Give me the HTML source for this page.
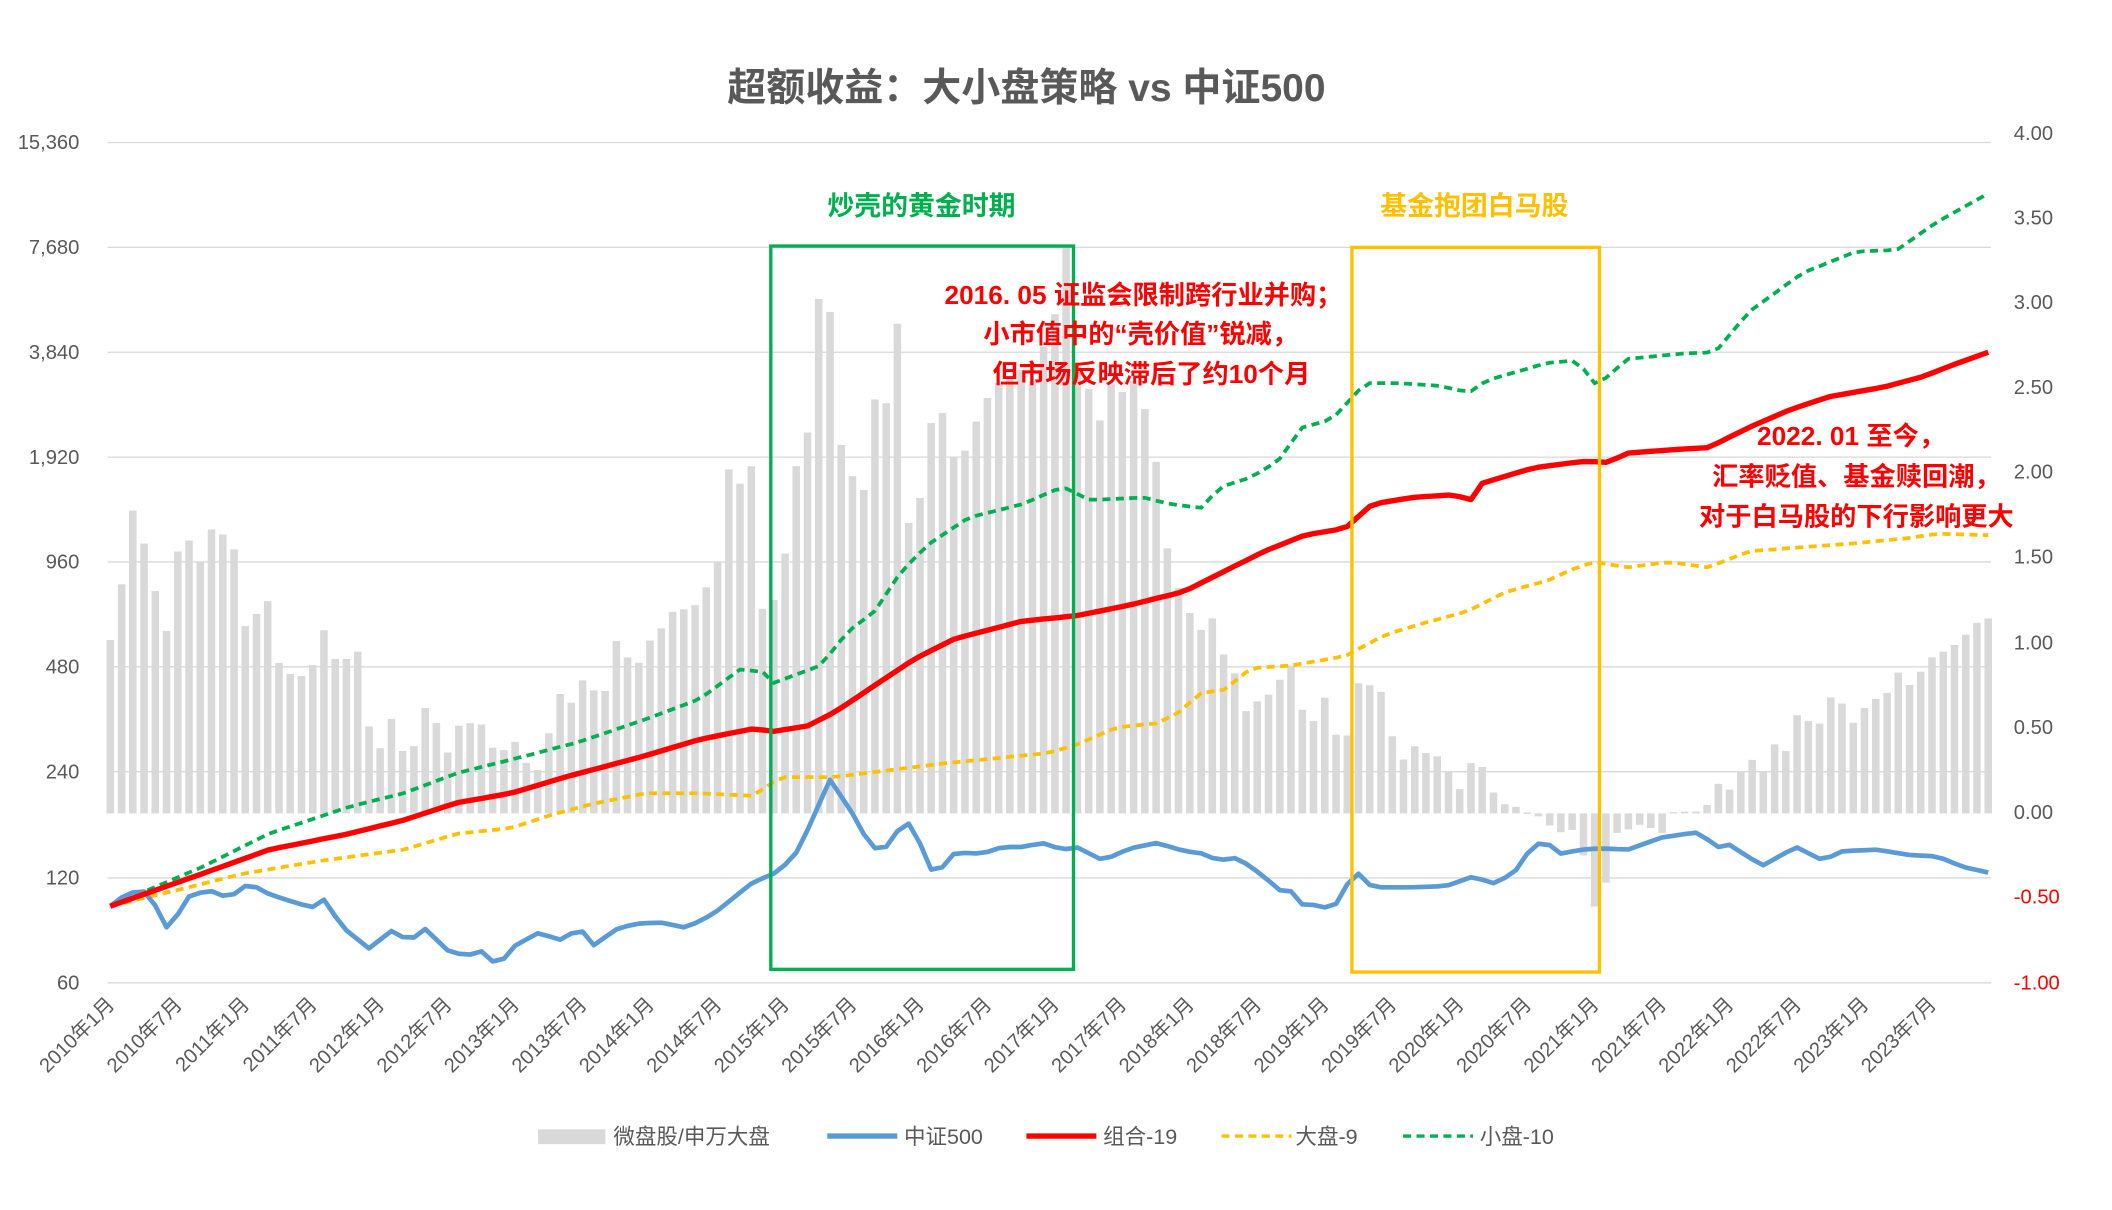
<!DOCTYPE html>
<html><head><meta charset="utf-8"><style>
html,body{margin:0;padding:0;background:#fff;}
svg{display:block;}
text{font-family:"Liberation Sans","Noto Sans CJK SC",sans-serif;}
</style></head><body>
<svg id="c" width="2112" height="1210" viewBox="0 0 1570 900" preserveAspectRatio="none" xmlns="http://www.w3.org/2000/svg">
<rect width="1570" height="900" fill="#fff"/>
<g id="grid" stroke="#d9d9d9" stroke-width="1">
<line x1="80" x2="1480" y1="106" y2="106"/><line x1="80" x2="1480" y1="184" y2="184"/>
<line x1="80" x2="1480" y1="262" y2="262"/><line x1="80" x2="1480" y1="340" y2="340"/>
<line x1="80" x2="1480" y1="418" y2="418"/><line x1="80" x2="1480" y1="496" y2="496"/>
<line x1="80" x2="1480" y1="574" y2="574"/><line x1="80" x2="1480" y1="653" y2="653"/>
<line x1="80" x2="1480" y1="731" y2="731"/>
</g>
<g id="bars" fill="#d9d9d9"></g>
<g id="lines"></g>
<text x="763" y="75" text-anchor="middle" font-size="29" font-weight="bold" fill="#595959">超额收益：大小盘策略 vs 中证500</text>
<g font-size="15" fill="#595959" text-anchor="end">
<text x="59" y="111">15,360</text><text x="59" y="189">7,680</text><text x="59" y="267">3,840</text>
<text x="59" y="345">1,920</text><text x="59" y="423">960</text><text x="59" y="501">480</text>
<text x="59" y="579">240</text><text x="59" y="658">120</text><text x="59" y="736">60</text>
</g>
<g font-size="15" fill="#595959">
<text x="1497" y="104">4.00</text><text x="1497" y="167">3.50</text><text x="1497" y="230">3.00</text>
<text x="1497" y="293">2.50</text><text x="1497" y="356">2.00</text><text x="1497" y="419">1.50</text>
<text x="1497" y="483">1.00</text><text x="1497" y="546">0.50</text><text x="1497" y="609">0.00</text>
<text x="1497" y="672" fill="#ff0000">-0.50</text><text x="1497" y="736" fill="#ff0000">-1.00</text>
</g>
<g id="xl" font-size="15" fill="#595959" text-anchor="end"></g>
<rect x="573" y="183" width="225" height="538" fill="none" stroke="#00b050" stroke-width="2.5"/>
<rect x="1005" y="184" width="184" height="539" fill="none" stroke="#ffc000" stroke-width="2.5"/>
<text x="685" y="160" text-anchor="middle" font-size="20" font-weight="bold" fill="#00b050">炒壳的黄金时期</text>
<text x="1096" y="160" text-anchor="middle" font-size="20" font-weight="bold" fill="#ffc000">基金抱团白马股</text>
<g font-size="19.5" font-weight="bold" fill="#ff0000" text-anchor="middle">
<text x="850" y="226">2016. 05 证监会限制跨行业并购；</text>
<text x="848" y="255">小市值中的“壳价值”锐减，</text>
<text x="856" y="285">但市场反映滞后了约10个月</text>
<text x="1376" y="331">2022. 01 至今，</text>
<text x="1380" y="361">汇率贬值、基金赎回潮，</text>
<text x="1380" y="391">对于白马股的下行影响更大</text>
</g>
<g font-size="16" fill="#595959">
<rect x="400" y="840" width="50" height="11" fill="#d9d9d9"/><text x="456" y="851">微盘股/申万大盘</text>
<line x1="615" x2="667" y1="845" y2="845" stroke="#5b9bd5" stroke-width="4"/><text x="672" y="851">中证500</text>
<line x1="763" x2="815" y1="845" y2="845" stroke="#ff0000" stroke-width="4"/><text x="820" y="851">组合-19</text>
<line x1="908" x2="960" y1="845" y2="845" stroke="#ffc000" stroke-width="2.5" stroke-dasharray="6,4"/><text x="963" y="851">大盘-9</text>
<line x1="1043" x2="1095" y1="845" y2="845" stroke="#00b050" stroke-width="2.5" stroke-dasharray="6,4"/><text x="1100" y="851">小盘-10</text>
</g>
</svg>
<script>
var N=168,x0=82,dx=(1478-82)/167;
function interp(k,x){for(var i=0;i<k.length-1;i++){if(x<=k[i+2]){var t=(x-k[i])/(k[i+2]-k[i]);return k[i+1]+t*(k[i+3]-k[i+1]);}i++;}return k[k.length-1];}
var G=[82,674,150,645,200,620,260,600,300,590,340,575,380,565,430,552,480,535,520,520,550,498,570,500,575,508,610,495,630,470,650,455,670,425,690,405,720,385,760,375,790,362,810,372,850,370,870,375,895,378,905,363,930,355,950,343,968,318,990,312,1015,285,1040,285,1070,287,1092,292,1105,283,1150,270,1172,268,1187,287,1210,267,1250,263,1275,262,1300,232,1340,203,1380,187,1410,186,1440,165,1478,144];
var R=[82,674,150,650,200,632,260,620,300,610,340,597,380,590,420,578,480,562,520,550,560,542,575,544,600,540,620,530,650,510,680,490,710,475,760,462,800,458,840,450,880,440,910,425,940,410,970,398,1000,393,1020,375,1050,370,1080,368,1095,372,1100,360,1140,348,1170,344,1180,343,1195,344,1210,337,1250,334,1270,333,1300,318,1330,305,1360,295,1400,288,1430,280,1450,272,1478,262];
var Y=[82,674,140,660,180,650,240,640,300,632,340,620,380,616,410,606,440,598,480,590,520,590,560,592,580,578,620,578,660,573,700,568,740,564,780,560,800,554,830,541,860,538,880,528,890,516,910,513,930,497,960,495,1000,488,1030,472,1060,463,1090,455,1120,440,1150,432,1170,423,1185,418,1210,422,1240,418,1270,422,1300,410,1340,407,1380,404,1420,400,1440,397,1478,398];
var B=[82,674,95,664,110,663,125,692,140,667,155,662,170,668,185,657,200,665,215,670,232,675,240,668,255,690,275,706,290,692,305,700,315,690,335,709,350,710,360,707,370,720,380,705,400,694,420,700,430,688,440,704,460,690,475,687,490,686,510,690,530,680,545,668,560,656,575,650,590,638,600,618,617,580,635,607,645,626,655,635,668,617,680,610,688,646,698,648,710,634,730,635,745,630,760,630,775,627,790,632,800,630,820,640,840,631,860,627,880,633,895,635,905,640,920,638,940,652,950,662,960,663,970,675,980,672,990,678,1000,660,1008,648,1020,660,1050,660,1075,659,1095,652,1110,657,1125,650,1140,628,1150,627,1160,635,1175,632,1190,631,1210,632,1235,623,1255,620,1265,619,1275,632,1282,626,1310,644,1335,630,1355,640,1370,633,1395,632,1420,636,1440,637,1460,645,1478,649];
var BR=[82,476,90,437,99,378,107,404,116,442,124,470,133,404,141,402,150,420,158,391,166,398,175,410,183,471,191,456,200,446,208,497,217,502,225,503,233,494,242,465,250,493,258,490,267,484,275,546,283,557,292,532,300,561,309,554,317,523,325,539,334,563,342,537,350,538,359,539,367,558,375,558,384,551,392,569,400,573,409,542,417,514,425,523,433,506,442,514,450,514,459,473,467,490,475,493,484,475,492,467,500,455,509,453,517,450,525,437,534,417,542,347,550,360,559,346,567,455,575,447,584,410,592,346,600,325,609,218,617,232,625,330,634,355,642,365,650,297,659,300,667,238,675,390,684,370,692,315,700,305,709,340,717,336,725,315,734,296,742,285,750,282,759,275,767,285,775,260,784,235,792,176,800,270,808,285,817,315,825,285,834,292,842,282,850,300,858,332,867,405,875,435,884,455,892,470,900,456,909,486,917,497,925,530,934,522,942,518,950,508,959,492,967,526,975,540,984,516,992,545,1000,555,1009,508,1017,510,1025,508,1034,545,1042,567,1050,554,1059,560,1067,561,1075,570,1084,590,1092,568,1100,566,1109,588,1117,598,1125,599,1134,604,1142,606,1150,612,1158,620,1167,616,1175,622,1183,677,1192,667,1200,620,1208,618,1217,614,1225,612,1233,626,1242,604,1250,604,1258,603,1267,605,1275,580,1283,590,1292,581,1300,556,1308,586,1317,548,1325,569,1334,532,1342,532,1350,547,1358,520,1367,516,1375,541,1383,531,1392,518,1400,524,1409,496,1417,512,1425,504,1434,490,1442,486,1450,482,1459,475,1467,465,1475,460];
var bars=document.getElementById('bars'),h='';
for(var i=0;i<N;i++){var x=x0+i*dx,t=interp(BR,x),base=605;var y1=Math.min(t,base),y2=Math.max(t,base);if(y2-y1<1)y2=y1+1;h+='<rect x="'+(x-2.8).toFixed(1)+'" y="'+y1.toFixed(1)+'" width="5.6" height="'+(y2-y1).toFixed(1)+'"/>';}
bars.innerHTML=h;
function path(k){var d='';for(var i=0;i<N;i++){var x=x0+i*dx;d+=(i?'L':'M')+x.toFixed(1)+' '+interp(k,x).toFixed(1);}return d;}
var L='';
L+='<path d="'+path(Y)+'" fill="none" stroke="#ffc000" stroke-width="2.8" stroke-dasharray="6,4"/>';
L+='<path d="'+path(G)+'" fill="none" stroke="#00b050" stroke-width="2.8" stroke-dasharray="6,4"/>';
L+='<path d="'+path(B)+'" fill="none" stroke="#5b9bd5" stroke-width="3.5" stroke-linejoin="round"/>';
L+='<path d="'+path(R)+'" fill="none" stroke="#ff0000" stroke-width="4" stroke-linejoin="round"/>';
document.getElementById('lines').innerHTML=L;
var xl='';
for(var i=0;i<N;i+=6){var x=x0+i*dx,yr=2010+Math.floor(i/12),m=(i%12)?7:1;xl+='<text transform="translate('+(x+4).toFixed(1)+',748) rotate(-45)">'+yr+'年'+m+'月</text>';}
document.getElementById('xl').innerHTML=xl;
</script>
</body></html>
